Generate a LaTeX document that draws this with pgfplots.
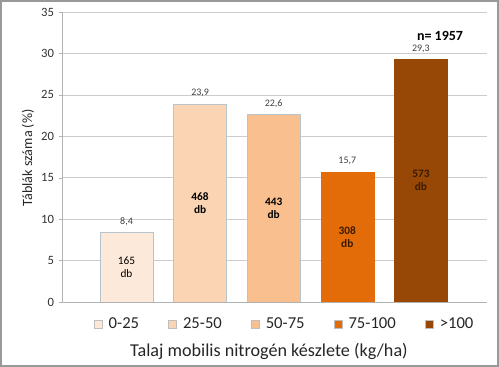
\documentclass[border=0pt]{standalone}
\usepackage{pgfplots}
\pgfplotsset{compat=1.18}
\usepackage{fontspec}
\setmainfont{Carlito}
\definecolor{c1}{HTML}{FDE9D9}
\definecolor{c2}{HTML}{FBD4B4}
\definecolor{c3}{HTML}{FABF8F}
\definecolor{c4}{HTML}{E36C09}
\definecolor{c5}{HTML}{974806}
\definecolor{bord}{HTML}{B8C4CC}
\definecolor{dbrown}{HTML}{3A1A00}
\begin{document}
\begin{tikzpicture}
\draw[gray!80, line width=1.5pt] (0.75pt,0.75pt) rectangle (373.5pt,274.5pt);
\begin{axis}[
  at={(46.5pt,48.75pt)}, anchor=south west,
  scale only axis, width=318.75pt, height=217.5pt,
  xmin=0.1236, xmax=5.898, ymin=0, ymax=35,
  enlargelimits=false,
  ytick={0,5,...,35}, xtick=\empty,
  ymajorgrids, grid style={gray!40},
  axis x line*=bottom, axis y line*=left,
  axis line style={gray!60},
  tick align=outside, major tick length=2.5pt,
  ytick style={gray!60},
  /pgf/number format/assume math mode=true,
  yticklabel style={font=\fontsize{9.5}{11}\selectfont, text=black!80},
  ylabel={Táblák száma (\%)},
  ylabel style={at={(axis description cs:-0.08,0.497)}, anchor=center, font=\fontsize{10.6}{12}\selectfont, text=black!85},
  xlabel={Talaj mobilis nitrogén készlete (kg/ha)},
  xlabel style={at={(axis description cs:0.487,-0.172)}, anchor=center, font=\fontsize{13.6}{15}\selectfont, text=black!85},
  ybar, bar width=39.75pt, bar shift=0pt,
  nodes near coords={\pgfmathprintnumber[fixed,fixed zerofill,precision=1,use comma]{\pgfplotspointmeta}},
  nodes near coords style={font=\fontsize{7.5}{9}\selectfont, text=black!75, yshift=1.5pt},
  legend image code/.code={\draw[#1, draw=gray!50] (0pt,-3pt) rectangle (6pt,3pt); \path (8.5pt,0pt);},
  legend columns=5,
  legend style={draw=none, fill=none, at={(0.525,-0.076)}, anchor=center,
    font=\fontsize{12.5}{14}\selectfont, text=black!85,
    /tikz/every even column/.append style={column sep=20pt}},
]
\addplot[fill=c1, draw=bord] coordinates {(1,8.4)};
\addlegendentry{0-25}
\addplot[fill=c2, draw=bord] coordinates {(2,23.9)};
\addlegendentry{25-50}
\addplot[fill=c3, draw=bord] coordinates {(3,22.6)};
\addlegendentry{50-75}
\addplot[fill=c4, draw=c4] coordinates {(4,15.7)};
\addlegendentry{75-100}
\addplot[fill=c5, draw=c5] coordinates {(5,29.3)};
\addlegendentry{>100}

\node[align=center, font=\fontsize{8.5}{10}\selectfont] at (axis cs:1,4.2) {165\\db};
\node[align=center, font=\bfseries\fontsize{8.5}{10}\selectfont] at (axis cs:2,11.95) {468\\db};
\node[align=center, font=\bfseries\fontsize{8.5}{10}\selectfont] at (axis cs:3,11.3) {443\\db};
\node[align=center, font=\bfseries\fontsize{8.5}{10}\selectfont, text=dbrown] at (axis cs:4,7.85) {308\\db};
\node[align=center, font=\bfseries\fontsize{8.5}{10}\selectfont, text=dbrown] at (axis cs:5,14.65) {573\\db};
\node[font=\bfseries\fontsize{10.5}{12}\selectfont] at (axis cs:5.26,32.1) {n= 1957};
\end{axis}
\end{tikzpicture}
\end{document}
